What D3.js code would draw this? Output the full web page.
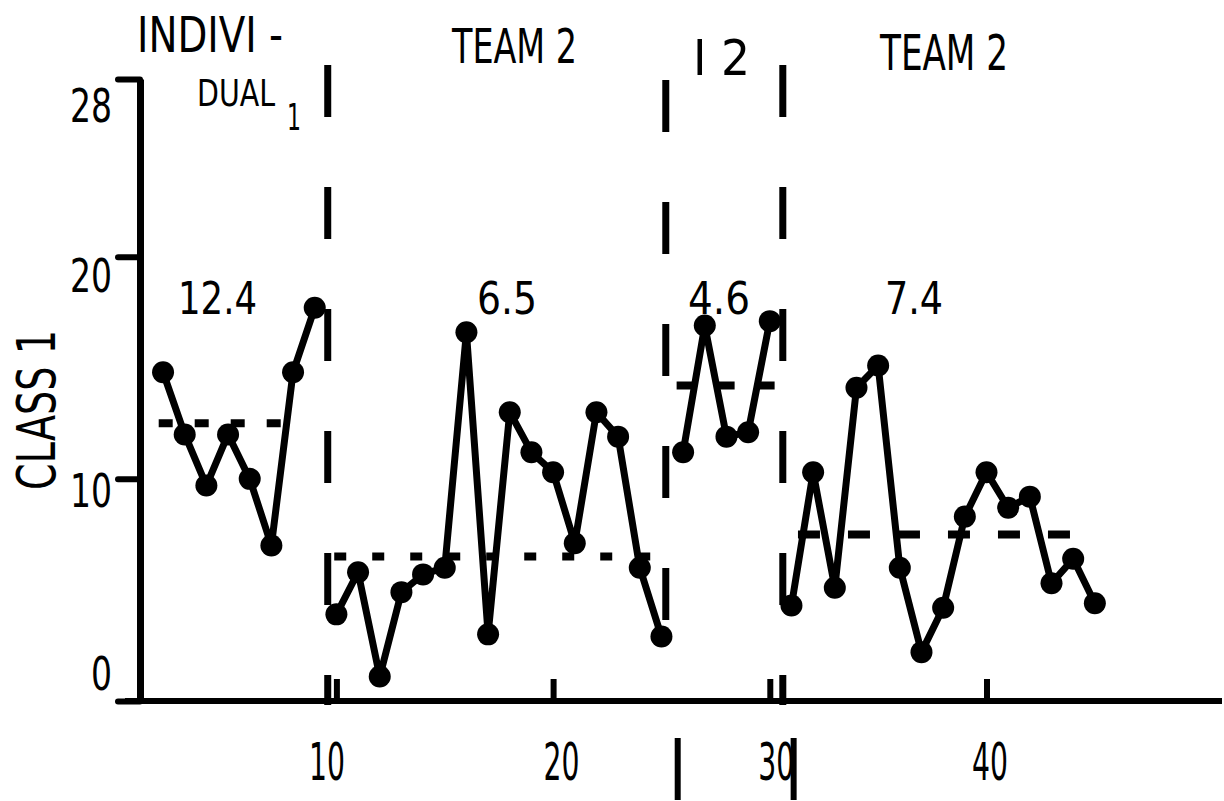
<!DOCTYPE html>
<html><head><meta charset="utf-8">
<script src="https://cdn.jsdelivr.net/npm/d3@7"></script>
<style>html,body{margin:0;padding:0;background:#fff;} svg{display:block}</style>
</head><body><svg id="c" width="1224" height="801"></svg>
<script>
// ---- data ----
const phase1Sessions = [2,3,4,5,6,7,8,9];
const phase1Values   = [14.8,12.0,9.7,12.0,10.0,7.0,14.8,17.7];
const phase2Sessions = [10,11,12,13,14,15,16,17,18,19,20,21,22,23,24,25];
const phase2Values   = [3.9,5.8,1.1,4.9,5.7,6.0,16.6,3.0,13.0,11.2,10.3,7.1,13.0,11.9,6.0,2.9];
const phase3Sessions = [26,27,28,29,30];
const phase3Values   = [11.2,16.9,11.9,12.1,17.1];
const phase4Sessions = [31,32,33,34,35,36,37,38,39,40,41,42,43,44,45];
const phase4Values   = [4.3,10.3,5.1,14.1,15.1,6.0,2.2,4.2,8.3,10.3,8.7,9.2,5.3,6.4,4.4];
const meanLabels = ["12.4","6.5","4.6","7.4"];
const meanValues = [12.5,6.5,14.2,7.5];
const meanStart  = [1.8,9.9,25.7,31.3];
const meanEnd    = [8.3,24.7,30.5,44.6];
const dividers   = [9.6,25.2,30.6];
const belowAxisMarks = [25.75,31.1];
const xTickValues = [10,20,30,40];
const xTickLabels = ["10","20","30","40"];
const yTickValues = [0,10,20,28];
const yTickLabels = ["0","10","20","28"];
const yTitle = "CLASS 1";

// ---- layout ----
const svg = d3.select("#c");
const FONT = "'DejaVu Sans Condensed','DejaVu Sans',sans-serif";
const x = d3.scaleLinear().domain([0,50]).range([119.7,1203.2]);
const y = d3.scaleLinear().domain([0,28]).range([701,79]);
const axisX = 140;

// y axis
const gy = svg.append("g").attr("transform",`translate(${axisX},0)`)
  .call(d3.axisLeft(y).tickValues(yTickValues).tickSizeInner(22).tickSizeOuter(0).tickPadding(6)
    .tickFormat((d,i)=>yTickLabels[i]));
gy.select(".domain").attr("stroke","#000").attr("stroke-width",7);
gy.selectAll(".tick line").attr("stroke","#000").attr("stroke-width",6).attr("stroke-linecap","round");
const yShift = {0:-28,10:11,20:18,28:26};
gy.selectAll(".tick text").attr("font-family",FONT).attr("font-size",46).attr("fill","#000")
  .attr("dy","0.36em").attr("y",d=>yShift[d])
  .each(function(d,i){ d3.select(this).attr("textLength",yTickLabels[i].length*21).attr("lengthAdjust","spacingAndGlyphs"); });

// x axis
svg.append("line").attr("x1",125).attr("x2",1222).attr("y1",y(0)).attr("y2",y(0))
  .attr("stroke","#000").attr("stroke-width",6);
const gx = svg.append("g").attr("transform",`translate(0,${y(0)})`)
  .call(d3.axisBottom(x).tickValues(xTickValues).tickSizeInner(-22).tickSizeOuter(0)
    .tickFormat((d,i)=>xTickLabels[i]));
gx.select(".domain").remove();
gx.selectAll(".tick line").attr("stroke","#000").attr("stroke-width",6);
const xShift = {10:-10,20:8,30:6,40:3};
gx.selectAll(".tick text").attr("font-family",FONT).attr("font-size",52).attr("fill","#000")
  .attr("dy",0).attr("y",79).attr("x",d=>xShift[d])
  .each(function(d,i){ d3.select(this).attr("textLength",xTickLabels[i].length*18).attr("lengthAdjust","spacingAndGlyphs"); });

// phase dividers
const divTop = [65,80,65], divBot = [705,660,705];
svg.selectAll(".div").data(dividers).join("line")
  .attr("x1",d=>x(d)).attr("x2",d=>x(d)).attr("y1",(d,i)=>divTop[i]).attr("y2",(d,i)=>divBot[i])
  .attr("stroke","#000").attr("stroke-width",7).attr("stroke-dasharray","52 70");
svg.selectAll(".bm").data(belowAxisMarks).join("line")
  .attr("x1",d=>x(d)).attr("x2",d=>x(d)).attr("y1",738).attr("y2",800)
  .attr("stroke","#000").attr("stroke-width",6);

// mean lines
const meanDash = ["14 22","12 26","18 22","22 28"];
svg.selectAll(".mean").data(meanValues).join("line")
  .attr("x1",(d,i)=>x(meanStart[i])).attr("x2",(d,i)=>x(meanEnd[i]))
  .attr("y1",d=>y(d)).attr("y2",d=>y(d))
  .attr("stroke","#000").attr("stroke-width",8).attr("stroke-dasharray",(d,i)=>meanDash[i]);

// data series
const phases = [
  [phase1Sessions,phase1Values],[phase2Sessions,phase2Values],
  [phase3Sessions,phase3Values],[phase4Sessions,phase4Values]];
const line = d3.line().x(d=>x(d[0])).y(d=>y(d[1]));
phases.forEach(([s,v])=>{
  const pts = s.map((d,i)=>[d,v[i]]);
  svg.append("path").datum(pts).attr("d",line).attr("fill","none")
    .attr("stroke","#000").attr("stroke-width",7).attr("stroke-linejoin","round");
  svg.selectAll(null).data(pts).join("circle")
    .attr("cx",d=>x(d[0])).attr("cy",d=>y(d[1])).attr("r",11).attr("fill","#000");
});

// text annotations
function txt(t,px,py,size,len,anchor){
  const e = svg.append("text").attr("x",px).attr("y",py).attr("font-family",FONT)
    .attr("font-size",size).attr("fill","#000").attr("text-anchor",anchor||"start").text(t);
  if(len) e.attr("textLength",len).attr("lengthAdjust","spacingAndGlyphs");
  return e;
}
// mean labels
const meanLabelX = [178,477,688,885], meanLabelW = [79,60,62,58];
meanLabels.forEach((t,i)=>txt(t,meanLabelX[i],314,44,meanLabelW[i]));
// phase titles
txt("INDIVI -",137,52,50,146);
txt("DUAL",197,106,38,78);
txt("1",287,130,38,14);
txt("TEAM 2",452,63,48,125);
txt("I 2",693,75,50,57);
txt("TEAM 2",880,70,50,128);
// y title
svg.append("text").attr("transform","translate(36,410) rotate(-90)")
  .attr("font-family",FONT).attr("font-size",54).attr("fill","#000")
  .attr("text-anchor","middle").attr("dominant-baseline","central")
  .attr("textLength",160).attr("lengthAdjust","spacingAndGlyphs").text(yTitle);
</script></body></html>
